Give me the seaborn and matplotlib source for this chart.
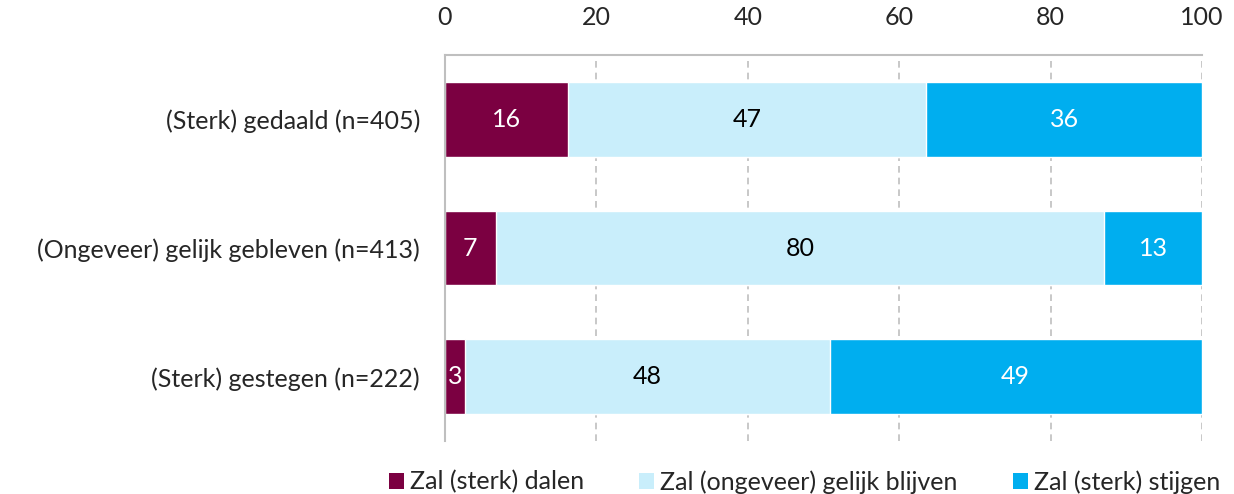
import pandas as pd
import matplotlib.pyplot as plt
import seaborn as sns
from matplotlib.patches import Patch

# Data (percentages per group)
groups = ['(Sterk) gedaald (n=405)', '(Ongeveer) gelijk gebleven (n=413)', '(Sterk) gestegen (n=222)']
dalen = [16.2, 6.7, 2.6]
gelijk = [47.4, 80.4, 48.2]
stijgen = [36.4, 12.9, 49.2]
series_names = ['Zal (sterk) dalen', 'Zal (ongeveer) gelijk blijven', 'Zal (sterk) stijgen']
colors = ['#7B0041', '#C9EEFB', '#00AEEF']
text_colors = ['white', 'black', 'white']

df = pd.DataFrame({'groep': groups, 'dalen': dalen, 'gelijk': gelijk, 'stijgen': stijgen})
df['c1'] = df['dalen']
df['c2'] = df['dalen'] + df['gelijk']
df['c3'] = df['c2'] + df['stijgen']

sns.set_style('white')
plt.rcParams['font.family'] = ['Lato', 'DejaVu Sans']
fs = 18

fig, ax = plt.subplots(figsize=(12.34, 4.94), dpi=100)
fig.subplots_adjust(left=0.3606, right=0.974, top=0.8887, bottom=0.107)

# Stacked bars drawn as overlapping cumulative totals
for col, color in zip(['c3', 'c2', 'c1'], colors[::-1]):
    sns.barplot(data=df, x=col, y='groep', color=color, width=0.58,
                saturation=1, orient='h', ax=ax, zorder=3)

# Segment labels
for i, row in df.iterrows():
    starts = [0, row['c1'], row['c2']]
    vals = [row['dalen'], row['gelijk'], row['stijgen']]
    for s, v, tc in zip(starts, vals, text_colors):
        ax.text(s + v / 2, i, f'{round(v):d}', ha='center', va='center',
                color=tc, fontsize=fs, zorder=4)

ax.set_xlim(0, 100)
ax.set_ylim(2.5, -0.5)
ax.set_xticks([0, 20, 40, 60, 80, 100])
ax.xaxis.tick_top()
ax.tick_params(axis='x', length=0, pad=19, labelsize=fs)
ax.tick_params(axis='y', length=0, pad=18, labelsize=fs)
ax.set_xlabel('')
ax.set_ylabel('')

ax.grid(axis='x', color='#BFBFBF', linestyle=(0, (4, 3)), linewidth=1.2, zorder=0)
ax.grid(axis='y', visible=False)
for side in ['right', 'bottom']:
    ax.spines[side].set_visible(False)
for side in ['left', 'top']:
    ax.spines[side].set_color('#BFBFBF')
    ax.spines[side].set_linewidth(1.5)
    ax.spines[side].set_zorder(5)

handles = [Patch(facecolor=c, edgecolor='none') for c in colors]
fig.legend(handles, series_names, loc='lower center', bbox_to_anchor=(0.652, -0.045),
           ncol=3, frameon=False, fontsize=fs, handlelength=0.6, handleheight=0.6,
           handletextpad=0.25, columnspacing=2.2)

plt.savefig('out.png', dpi=100)
